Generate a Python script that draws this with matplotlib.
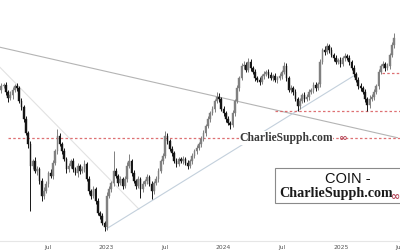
import matplotlib

matplotlib.use("Agg")
import matplotlib.dates as mdates
import matplotlib.pyplot as plt
import numpy as np
from matplotlib.patches import Rectangle

# weekly candles, chart units (no price axis shown on the reference)
START_WEEK = "2022-02-07"
FIRST_OPEN = 160
CLOSES = [
    164, 165, 158, 153, 155, 160, 164, 162, 150, 144,
    132, 118, 107, 85, 90, 80, 82, 70, 55, 60,
    67, 78, 75, 88, 100, 115, 107, 100, 92, 82,
    85, 90, 82, 78, 85, 80, 82, 87, 72, 60,
    55, 62, 50, 38, 35, 28, 24, 55, 62, 68,
    80, 75, 68, 72, 65, 72, 85, 90, 78, 70,
    65, 72, 62, 67, 70, 74, 67, 60, 68, 72,
    80, 90, 95, 115, 110, 102, 98, 90, 87, 92,
    90, 92, 88, 85, 90, 95, 100, 103, 107, 112,
    118, 125, 132, 138, 142, 150, 154, 152, 142, 138,
    132, 128, 126, 138, 150, 162, 172, 184, 185, 180,
    188, 182, 178, 172, 170, 168, 174, 176, 178, 175,
    172, 174, 170, 172, 174, 178, 184, 172, 160, 162,
    158, 152, 145, 150, 155, 152, 154, 158, 160, 165,
    162, 166, 188, 200, 198, 204, 200, 195, 192, 188,
    190, 186, 192, 194, 192, 188, 182, 176, 170, 164,
    162, 158, 152, 146, 152, 154, 158, 164, 178, 184,
    186, 182, 184, 195, 205, 212,
]
UPPER_WICKS = [
    3, 2, 3, 2, 4, 3, 2, 3, 2, 3,
    2, 3, 2, 3, 2, 4, 3, 2, 3, 4,
    3, 2, 4, 3, 2, 7, 3, 2, 3, 2,
    3, 2, 3, 2, 3, 2, 3, 4, 2, 3,
    2, 3, 2, 3, 2, 3, 2, 4, 3, 2,
    20, 3, 2, 3, 2, 3, 4, 7, 2, 3,
    2, 3, 2, 3, 2, 3, 2, 3, 2, 3,
    3, 2, 3, 5, 3, 2, 3, 2, 3, 2,
    2, 3, 2, 3, 2, 3, 2, 3, 2, 3,
    3, 2, 3, 2, 3, 2, 4, 3, 2, 3,
    2, 3, 2, 3, 2, 3, 2, 3, 4, 3,
    4, 3, 2, 3, 2, 3, 2, 3, 2, 3,
    3, 2, 3, 2, 3, 2, 4, 3, 2, 3,
    2, 3, 2, 3, 2, 3, 2, 3, 2, 3,
    3, 2, 3, 2, 4, 3, 2, 3, 2, 3,
    2, 3, 2, 3, 2, 3, 2, 3, 2, 3,
    3, 2, 3, 2, 3, 2, 3, 2, 3, 2,
    3, 2, 3, 2, 3, 5,
]
LOWER_WICKS = [
    3, 2, 3, 4, 2, 3, 2, 3, 2, 3,
    3, 2, 4, 45, 3, 2, 4, 3, 5, 3,
    2, 3, 2, 3, 2, 3, 2, 3, 2, 4,
    3, 2, 3, 2, 4, 3, 2, 3, 2, 3,
    3, 2, 3, 2, 3, 2, 4, 3, 2, 3,
    3, 2, 3, 2, 3, 2, 3, 2, 3, 2,
    3, 2, 9, 3, 2, 3, 2, 8, 3, 2,
    3, 2, 3, 2, 3, 2, 3, 2, 3, 2,
    2, 3, 2, 3, 2, 3, 2, 3, 2, 3,
    2, 3, 2, 3, 2, 3, 2, 3, 2, 3,
    3, 2, 4, 2, 3, 2, 3, 2, 3, 2,
    2, 3, 2, 3, 2, 3, 2, 3, 2, 3,
    2, 3, 2, 3, 2, 3, 2, 3, 2, 3,
    3, 2, 5, 3, 2, 3, 2, 3, 2, 3,
    3, 2, 3, 2, 3, 2, 3, 2, 3, 2,
    2, 3, 2, 3, 2, 3, 2, 3, 2, 3,
    3, 2, 3, 6, 3, 2, 3, 2, 3, 2,
    2, 3, 2, 3, 2, 3,
]

# drawn trendlines: (start date, start level, end date, end level, colour)
TRENDLINES = [
    ("2022-02-03", 203, "2025-06-26", 113, "#b4b4b4"),
    ("2022-02-03", 183, "2023-04-12", 42, "#e2e2e2"),
    ("2022-12-30", 22, "2025-02-12", 175, "#c3d0dc"),
]
# dashed support / resistance levels: (from date, level)
LEVELS = [
    ("2022-02-27", 113),
    ("2024-06-09", 140),
    ("2025-05-09", 177),
]

TICK_DATES = ["2022-07-01", "2023-01-01", "2023-07-01", "2024-01-01",
              "2024-07-01", "2025-01-01", "2025-07-01"]
TICK_LABELS = ["Jul", "2023", "Jul", "2024", "Jul", "2025", "Jul"]

X_LEFT, X_RIGHT = "2022-02-03", "2025-07-04"

closes = np.array(CLOSES, dtype=float)
opens = np.concatenate([[FIRST_OPEN], closes[:-1]])
highs = np.maximum(opens, closes) + np.array(UPPER_WICKS)
lows = np.minimum(opens, closes) - np.array(LOWER_WICKS)
weeks = np.datetime64(START_WEEK) + np.arange(len(closes)) * np.timedelta64(7, "D")
x = mdates.date2num(weeks.astype("datetime64[D]").astype(object))


def d2n(s):
    return mdates.date2num(np.datetime64(s).astype(object))


fig = plt.figure(figsize=(4, 2.5), dpi=100)
ax = fig.add_axes([0, 0.035, 1, 0.965])

for (d0, v0, d1, v1, col) in TRENDLINES:
    ax.plot([d2n(d0), d2n(d1)], [v0, v1], color=col, lw=0.8, zorder=1)

for d0, lvl in LEVELS:
    ax.plot([d2n(d0), d2n(X_RIGHT)], [lvl, lvl], color="#d9575a", lw=0.9,
            dashes=(2.0, 1.8), alpha=0.85, zorder=1.5)

up_col, down_col = "#808080", "#151515"
width = 5.2
for xi, o, h, l, c in zip(x, opens, highs, lows, closes):
    col = up_col if c >= o else down_col
    ax.vlines(xi, l, h, color=col, lw=0.7, zorder=2)
    ax.add_patch(Rectangle((xi - width / 2, min(o, c)), width, max(abs(c - o), 0.8),
                           facecolor=col, edgecolor=col, lw=0.3, zorder=3))

ax.set_xlim(d2n(X_LEFT), d2n(X_RIGHT))
ax.set_ylim(10, 250)
ax.set_xticks([d2n(d) for d in TICK_DATES])
ax.set_xticklabels(TICK_LABELS, fontsize=4.3, color="#555555")
ax.tick_params(axis="x", length=0, pad=2.5)
ax.set_yticks([])
for side in ("top", "left", "right"):
    ax.spines[side].set_visible(False)
ax.spines["bottom"].set_color("#e6e6e6")
ax.spines["bottom"].set_linewidth(0.8)

# watermark on the dashed level
fig.text(286 / 400, 1 - 138 / 250, "CharlieSupph.com", fontsize=8.4,
         family="Liberation Serif", weight="bold", color="#3a3a3a",
         ha="center", va="center",
         bbox=dict(facecolor="white", edgecolor="none", pad=0.4))
fig.text(343 / 400, 1 - 138 / 250, "∞", fontsize=7.5, weight="bold",
         color="#b5485a", ha="center", va="center")

# label box
fig.patches.append(Rectangle((275 / 400, 1 - 203 / 250), 130 / 400, 35 / 250,
                             transform=fig.transFigure, facecolor="white",
                             edgecolor="#8a8a8a", lw=0.8, zorder=5))
fig.text(348 / 400, 1 - 179 / 250, "COIN -", fontsize=10.5, color="#111111",
         family="Liberation Sans", ha="center", va="center", zorder=6)
fig.text(336 / 400, 1 - 194 / 250, "CharlieSupph.com", fontsize=10.2,
         family="Liberation Serif", weight="bold", color="#1a1a1a",
         ha="center", va="center", zorder=6)
fig.text(396 / 400, 1 - 197 / 250, "∞", fontsize=8, weight="bold",
         color="#b5485a", ha="center", va="center", zorder=6)

fig.savefig("out.png", dpi=100)
